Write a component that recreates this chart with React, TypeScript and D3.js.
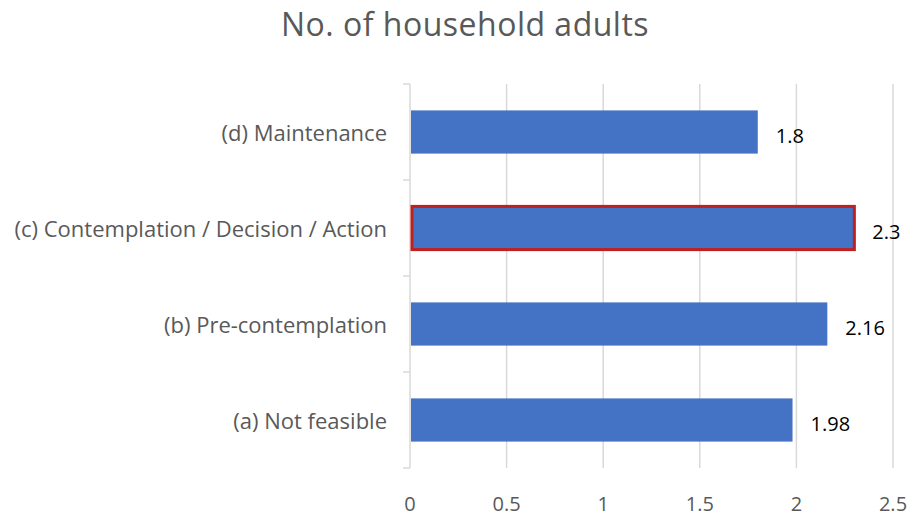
import React from "react";
import * as d3 from "d3";

const categories = [
  "(d) Maintenance",
  "(c) Contemplation / Decision / Action",
  "(b) Pre-contemplation",
  "(a) Not feasible",
];
const values = [1.8, 2.3, 2.16, 1.98];
const highlighted = [false, true, false, false];
const xTicks = [0, 0.5, 1, 1.5, 2, 2.5];
const tickLabels = ["0", "0.5", "1", "1.5", "2", "2.5"];
const title = "No. of household adults";

const W = 913;
const H = 529;
const FONT = "'Open Sans', 'Noto Sans', sans-serif";

export default function App() {
  const x = d3.scaleLinear().domain([0, 2.5]).range([410, 893]);
  const y = d3.scaleBand().domain(categories).range([84, 468]).paddingInner(0.55).paddingOuter(0.275);
  const outer = d3.scaleBand().domain(categories).range([84, 468]);
  const boundaries = [...categories.map((c) => outer(c) as number), 468];

  return (
    <svg width={W} height={H} style={{ position: "absolute", left: 0, top: 0, background: "#fff" }}>
      <text x={465} y={36} textAnchor="middle" fontFamily={FONT} fontSize={32} letterSpacing={0.5} fill="#595959">
        {title}
      </text>
      {xTicks.slice(1).map((t) => (
        <line key={t} x1={x(t)} x2={x(t)} y1={84} y2={468} stroke="#d9d9d9" strokeWidth={1.5} />
      ))}
      <line x1={x(0)} x2={x(0)} y1={84} y2={468} stroke="#d9d9d9" strokeWidth={1.5} />
      {boundaries.map((b, i) => (
        <line key={i} x1={x(0) - 7} x2={x(0)} y1={b} y2={b} stroke="#d9d9d9" strokeWidth={1.5} />
      ))}
      {categories.map((c, i) => {
        const y0 = y(c) as number;
        const bw = y.bandwidth();
        const hl = highlighted[i];
        return (
          <g key={c}>
            <rect
              x={x(0) + (hl ? 2 : 1)}
              y={y0}
              width={x(values[i]) - x(0) - (hl ? 2 : 1)}
              height={bw}
              fill="#4472C4"
              stroke={hl ? "#C0201E" : "none"}
              strokeWidth={3}
            />
            <text x={x(values[i]) + 18} y={y0 + bw / 2 + 11} fontFamily={FONT} fontSize={20} fill="#000">
              {values[i]}
            </text>
            <text
              x={387}
              y={y0 + bw / 2 + 8.5}
              textAnchor="end"
              fontFamily={FONT}
              fontSize={22}
              fill="#595959"
            >
              {c}
            </text>
          </g>
        );
      })}
      {xTicks.map((t, i) => (
        <text key={t} x={x(t)} y={511} textAnchor="middle" fontFamily={FONT} fontSize={20} fill="#595959">
          {tickLabels[i]}
        </text>
      ))}
    </svg>
  );
}
